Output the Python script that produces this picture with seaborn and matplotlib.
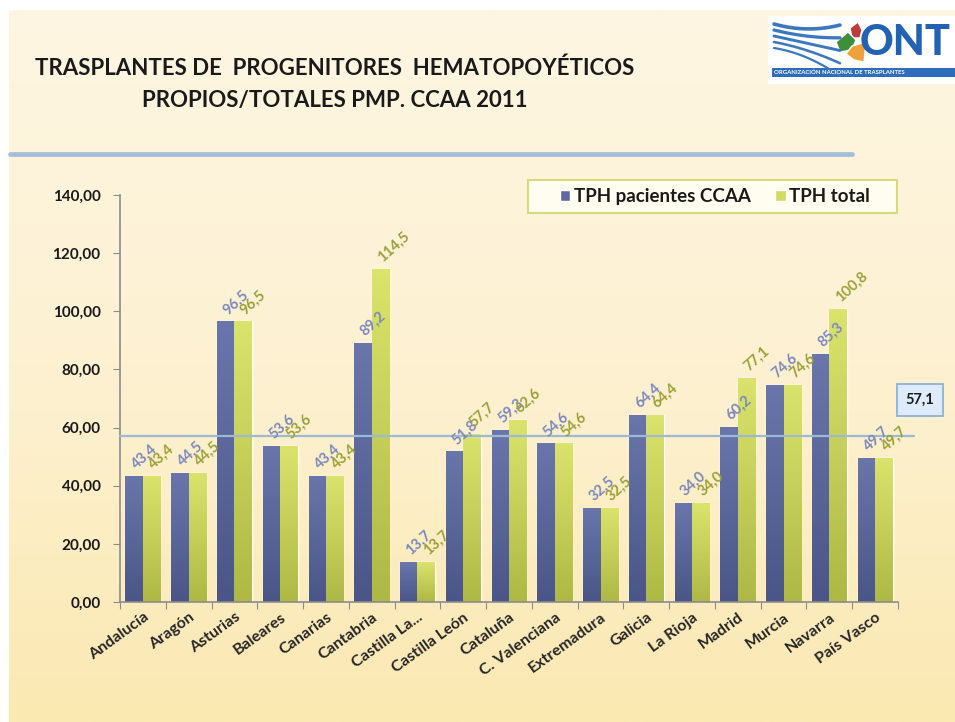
import numpy as np
import pandas as pd
import matplotlib
matplotlib.use('Agg')
import matplotlib.pyplot as plt
import seaborn as sns
from matplotlib.colors import LinearSegmentedColormap
from matplotlib.patches import Rectangle, Polygon

comunidades = ['Andalucía', 'Aragón', 'Asturias', 'Baleares', 'Canarias', 'Cantabria',
               'Castilla La...', 'Castilla León', 'Cataluña', 'C. Valenciana', 'Extremadura',
               'Galicia', 'La Rioja', 'Madrid', 'Murcia', 'Navarra', 'País Vasco']
tph_pacientes = [43.4, 44.5, 96.5, 53.6, 43.4, 89.2, 13.7, 51.8, 59.3, 54.6, 32.5,
                 64.4, 34.0, 60.2, 74.6, 85.3, 49.7]
tph_total = [43.4, 44.5, 96.5, 53.6, 43.4, 114.5, 13.7, 57.7, 62.6, 54.6, 32.5,
             64.4, 34.0, 77.1, 74.6, 100.8, 49.7]
series = ['TPH pacientes CCAA', 'TPH total']
media = 57.1
y_ticks = [0, 20, 40, 60, 80, 100, 120, 140]

df = pd.DataFrame({
    'ccaa': comunidades * 2,
    'serie': [series[0]] * len(comunidades) + [series[1]] * len(comunidades),
    'valor': tph_pacientes + tph_total,
})

sns.set_style('white')
plt.rcParams['font.family'] = ['Lato', 'DejaVu Sans']

azul, verde = '#5E69A0', '#CFDB62'
grad_azul = LinearSegmentedColormap.from_list('ga', ['#4B5587', '#6A76AB'])
grad_verde = LinearSegmentedColormap.from_list('gv', ['#AEB845', '#DAE46C'])

W, H = 955, 722
fig = plt.figure(figsize=(W / 100, H / 100), dpi=100, facecolor='white')

# fondo degradado de la diapositiva (margen blanco arriba e izquierda)
bg = fig.add_axes([9 / W, 0, 1 - 9 / W, 1 - 10 / H], zorder=-10)
bg.imshow(np.linspace(0, 1, 256).reshape(-1, 1), aspect='auto', extent=[0, 1, 0, 1],
          cmap=LinearSegmentedColormap.from_list('bg', ['#FBE9B2', '#FDF1D2', '#FEF6E2']),
          origin='lower')
bg.axis('off')

# marco de la leyenda, debajo de los ejes
fig.add_artist(Rectangle((528 / W, 1 - 213 / H), 369 / W, 33 / H, transform=fig.transFigure,
                         fc='#FFFCF0', ec='#D3DB7C', lw=1.5, zorder=-5))

ax = fig.add_axes([120 / W, 1 - 602 / H, 778 / W, 407 / H])
ax.set_facecolor('none')

sns.barplot(data=df, x='ccaa', y='valor', hue='serie', palette=[azul, verde],
            width=0.76, ax=ax, saturation=1, errorbar=None)

# degradado vertical dentro de cada barra
n = len(comunidades)
for i, p in enumerate(ax.patches[:2 * n]):
    x0, w = p.get_x(), p.get_width()
    h = p.get_height()
    cm = grad_azul if i < n else grad_verde
    im = ax.imshow(np.linspace(0, 1, 64).reshape(-1, 1), extent=[x0, x0 + w, 0, h],
                   origin='lower', aspect='auto', cmap=cm, zorder=p.get_zorder() + 0.1)
    im.set_clip_path(p)

# etiquetas de datos
for vals, col, dx in [(tph_pacientes, '#7C89BC', -0.19), (tph_total, '#9AA13A', 0.19)]:
    for i, v in enumerate(vals):
        ax.annotate(f'{v:.1f}'.replace('.', ','), (i + dx, v), xytext=(3, 3),
                    textcoords='offset points', rotation=42, rotation_mode='anchor',
                    ha='left', va='bottom', fontsize=10.5, fontweight='bold', color=col,
                    zorder=5)

# linea de media
ax.plot([-0.5, 16.85], [media, media], color='#9DB9D6', lw=1.6, clip_on=False, zorder=4)
fig.text(920 / W, 1 - 400 / H, f'{media:.1f}'.replace('.', ','), ha='center', va='center',
         fontsize=10.5, fontweight='bold', color='#1a1a1a',
         bbox=dict(boxstyle='square,pad=0.6', fc='#DDEBFA', ec='#93B6DC', lw=1.4))

ax.set_xlim(-0.5, n - 0.5)
ax.set_ylim(0, 140)
ax.set_yticks(y_ticks)
ax.set_yticklabels([f'{t:.2f}'.replace('.', ',') for t in y_ticks], fontsize=11,
                   fontweight='bold', color='#1a1a1a')
ax.set_xticks(np.arange(-0.5, n, 1))
ax.set_xticklabels([])
ax.set_xticks(np.arange(n), minor=True)
ax.set_xticklabels(comunidades, minor=True, rotation=36, ha='right', rotation_mode='anchor',
                   fontsize=11.5, fontweight='bold', color='#262626')
ax.tick_params(axis='x', which='major', length=5, color='#8C8C8C', direction='out', bottom=True)
ax.tick_params(axis='x', which='minor', length=0, pad=6)
ax.tick_params(axis='y', length=5, color='#8C8C8C', direction='out', left=True, pad=9)
ax.set_xlabel('')
ax.set_ylabel('')
for s in ['top', 'right']:
    ax.spines[s].set_visible(False)
for s in ['left', 'bottom']:
    ax.spines[s].set_color('#8C8C8C')
    ax.spines[s].set_linewidth(1.2)

handles, labels = ax.get_legend_handles_labels()
leg = ax.legend(handles, labels, loc='center', bbox_to_anchor=(715 / W, 1 - 196.5 / H),
                bbox_transform=fig.transFigure, ncol=2, frameon=False,
                prop={'size': 13.5, 'weight': 'bold', 'family': ['Lato', 'DejaVu Sans']},
                handlelength=0.55, handleheight=0.55, handletextpad=0.2, columnspacing=1.3,
                borderpad=0, borderaxespad=0)
for t in leg.get_texts():
    t.set_color('#1a1a1a')

# titulo
fig.text(335 / W, 1 - 68 / H, 'TRASPLANTES DE  PROGENITORES  HEMATOPOYÉTICOS', ha='center',
         va='center', fontsize=16, fontweight='bold', color='#1a1a1a')
fig.text(335 / W, 1 - 101 / H, 'PROPIOS/TOTALES PMP. CCAA 2011', ha='center',
         va='center', fontsize=16, fontweight='bold', color='#1a1a1a')
fig.add_artist(plt.Line2D([10 / W, 852 / W], [1 - 154 / H, 1 - 154 / H],
                          color='#A5BED8', lw=3.4))

# logo ONT (aproximado)
lg = fig.add_axes([768 / W, 1 - 84 / H, 187 / W, 68 / H])
lg.set_xlim(0, 187)
lg.set_ylim(68, 0)
lg.axis('off')
lg.add_patch(Rectangle((0, 0), 187, 68, fc='white', ec='none'))
for k in range(5):
    xs = np.linspace(6, 72, 30)
    ys = 8 + k * 6 + (xs - 6) * (0.28 - k * 0.03) + 0.002 * (xs - 6) ** 2 * (k - 2)
    lg.plot(xs, ys, color='#3C78C0', lw=2.6 - k * 0.25, solid_capstyle='round')
lg.add_patch(Polygon([[82, 12], [90, 6], [94, 14], [92, 22], [84, 22]], fc='#C23B3B'))
lg.add_patch(Polygon([[68, 26], [80, 16], [88, 24], [84, 34], [72, 36]], fc='#3F8F3A'))
lg.add_patch(Polygon([[84, 30], [98, 26], [96, 46], [86, 44], [78, 38]], fc='#F0A23A'))
lg.text(92, 27, 'ONT', fontsize=30, fontweight='black', color='#2361B2', va='center',
        ha='left', family=['Lato', 'DejaVu Sans'])
lg.add_patch(Rectangle((4, 52), 183, 9, fc='#2E6DBB', ec='none'))
lg.text(6, 56.5, 'ORGANIZACIÓN NACIONAL DE TRASPLANTES', fontsize=4.3, color='white',
        va='center', ha='left', fontweight='bold')

fig.savefig('out.png', dpi=100)
